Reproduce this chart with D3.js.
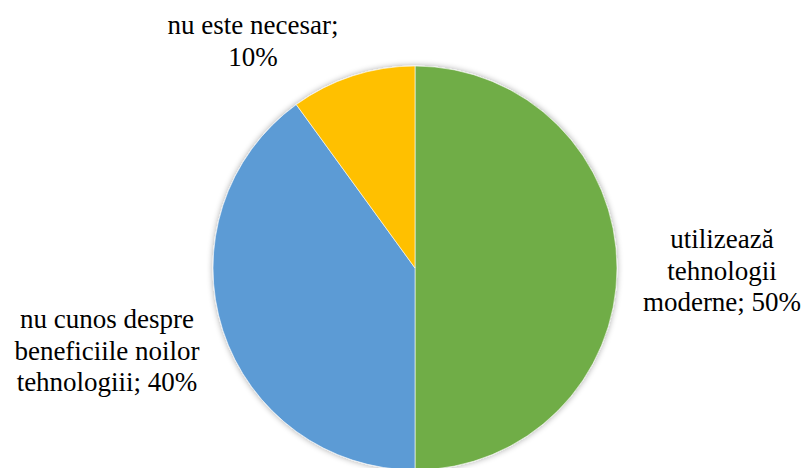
<!DOCTYPE html>
<html>
<head>
<meta charset="utf-8">
<script src="https://cdn.jsdelivr.net/npm/d3@7"></script>
<style>
  html, body { margin: 0; padding: 0; background: #fff; }
  svg { display: block; }
</style>
</head>
<body>
<svg id="chart" width="802" height="468"></svg>
<script>
// date din grafic
var categories = ["utilizează tehnologii moderne", "nu cunos despre beneficiile noilor tehnologiii", "nu este necesar"]
var values = [50, 40, 10]
var colors = ["#70AD47", "#5B9BD5", "#FFC000"]
// etichetele, pe randuri
var labelLines = [
    ["utilizează", "tehnologii", "moderne; 50%"],
    ["nu cunos despre", "beneficiile noilor", "tehnologiii; 40%"],
    ["nu este necesar;", "10%"]
]

var width = 802, height = 468
var cx = 415, cy = 268, radius = 202
// pozitia etichetelor (centru x, linia de baza)
var labelPos = [
    {x: 722, y: 248},
    {x: 107, y: 328},
    {x: 253, y: 34}
]
var lineH = 31.5

var svg = d3.select("#chart")

var defs = svg.append("defs")
var filter = defs.append("filter")
    .attr("id", "shadow")
    .attr("x", "-10%").attr("y", "-10%")
    .attr("width", "120%").attr("height", "120%")
filter.append("feGaussianBlur")
    .attr("in", "SourceAlpha")
    .attr("stdDeviation", 3)
    .attr("result", "blur")
filter.append("feComponentTransfer")
    .append("feFuncA").attr("type", "linear").attr("slope", 0.35)
var merge = filter.append("feMerge")
merge.append("feMergeNode")
merge.append("feMergeNode").attr("in", "SourceGraphic")

var data = categories.map(function (c, i) { return {name: c, value: values[i], idx: i} })

var pie = d3.pie()
    .value(function (d) { return d.value })
    .sort(null)

var arc = d3.arc()
    .innerRadius(0)
    .outerRadius(radius)

var g = svg.append("g")
    .attr("transform", "translate(" + cx + "," + cy + ")")
    .attr("filter", "url(#shadow)")

g.selectAll("path")
    .data(pie(data))
    .enter()
    .append("path")
    .attr("d", arc)
    .attr("fill", function (d) { return colors[d.data.idx] })
    .attr("stroke", "#fff")
    .attr("stroke-width", 0.6)

//etichete - fiecare rand e un text separat
var lg = svg.append("g").attr("class", "labels")
labelLines.forEach(function (lines, i) {
    lines.forEach(function (line, j) {
        lg.append("text")
            .attr("x", labelPos[i].x)
            .attr("y", labelPos[i].y + j * lineH)
            .attr("text-anchor", "middle")
            .attr("font-size", 27)
            .style("font-family", "'Liberation Serif', monospace")
            .text(line)
    })
})
</script>
</body>
</html>
